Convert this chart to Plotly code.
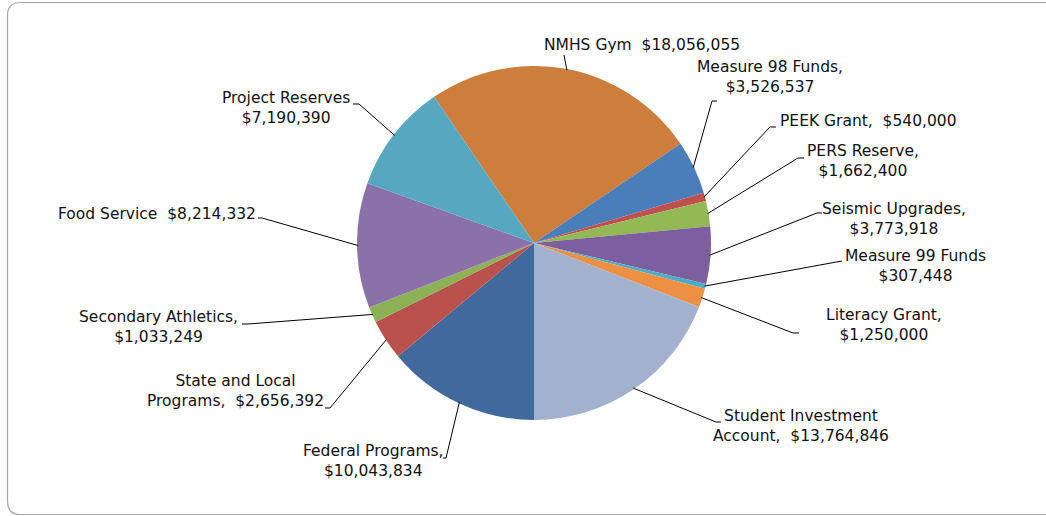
import math
import plotly.graph_objects as go

# ---------------- data ----------------
categories = [
    "NMHS Gym", "Measure 98 Funds", "PEEK Grant", "PERS Reserve",
    "Seismic Upgrades", "Measure 99 Funds", "Literacy Grant",
    "Student Investment Account", "Federal Programs", "State and Local Programs",
    "Secondary Athletics", "Food Service", "Project Reserves",
]
values = [
    18056055, 3526537, 540000, 1662400,
    3773918, 307448, 1250000,
    13764846, 10043834, 2656392,
    1033249, 8214332, 7190390,
]
label_texts = [
    "NMHS Gym  $18,056,055",
    "Measure 98 Funds,<br>$3,526,537",
    "PEEK Grant,  $540,000",
    "PERS Reserve,<br>$1,662,400",
    "Seismic Upgrades,<br>$3,773,918",
    "Measure 99 Funds<br>$307,448",
    "Literacy Grant,<br>$1,250,000",
    "Student Investment<br>Account,  $13,764,846",
    "Federal Programs,<br>$10,043,834",
    "State and Local<br>Programs,  $2,656,392",
    "Secondary Athletics,<br>$1,033,249",
    "Food Service  $8,214,332",
    "Project Reserves<br>$7,190,390",
]

# ---------------- style / layout ----------------
colors = [
    "#CD7D3C", "#4A7EBB", "#C0504D", "#93B955",
    "#7D5F9F", "#4BACC6", "#EE9043",
    "#A1B1CE", "#41699C", "#B9524C",
    "#8DB256", "#8A71AA", "#55A8C0",
]
W, H = 1046, 516
CX, CY, R = 534, 243, 177

# label centres (pixels) and leader-line elbow points (pixels)
label_pos = [
    (642, 45), (770, 77), (868, 121), (863, 161),
    (894, 219), (915, 266), (884, 325),
    (801, 426), (373, 461), (235, 391),
    (158, 327), (157, 214), (286, 108),
]
leader_elbows = [
    [(564, 55)],
    [(712, 101), (717, 101)],
    [(770, 127), (776, 127)],
    [(798, 158), (804, 158)],
    [(817, 213), (822, 213)],
    [(842, 261)],
    [(793, 333), (799, 333)],
    [(716, 422), (721, 422)],
    [(446, 458), (443, 458)],
    [(330, 408), (325, 408)],
    [(248, 324), (242, 324)],
    [(262, 218), (258, 218)],
    [(359, 104), (353, 104)],
]

total = sum(values)
# Student Investment Account ends exactly at 6 o'clock
rotation = 180 - 360 * sum(values[:8]) / total


def px(x):
    return x / W


def py(y):
    return 1 - y / H


fig = go.Figure()
fig.add_trace(go.Pie(
    labels=categories,
    values=values,
    sort=False,
    direction="clockwise",
    rotation=rotation,
    textinfo="none",
    marker=dict(colors=colors, line=dict(width=0)),
    domain=dict(x=[px(CX - R), px(CX + R)], y=[py(CY + R), py(CY - R)]),
    showlegend=False,
    hovertemplate="%{label}: $%{value:,}<extra></extra>",
))

shapes = []
annotations = []
cum = 0
for i, v in enumerate(values):
    mid = rotation + 360 * (cum + v / 2) / total
    cum += v
    th = math.radians(mid)
    ex = CX + (R - 1) * math.sin(th)
    ey = CY - (R - 1) * math.cos(th)
    pts = [(ex, ey)] + leader_elbows[i]
    path = "M {:.5f},{:.5f}".format(px(pts[0][0]), py(pts[0][1]))
    for (x, y) in pts[1:]:
        path += " L {:.5f},{:.5f}".format(px(x), py(y))
    shapes.append(dict(type="path", xref="paper", yref="paper", path=path,
                       line=dict(color="black", width=1)))
    lx, ly = label_pos[i]
    annotations.append(dict(
        x=px(lx), y=py(ly), xref="paper", yref="paper",
        text=label_texts[i], showarrow=False, align="center",
        xanchor="center", yanchor="middle",
        font=dict(family="Verdana, DejaVu Sans, sans-serif", size=15.5, color="#111111"),
    ))

# rounded outer frame
x0, y0, x1, y1, rr = 7.5, 2.5, 1060, 514.5, 13
frame = (
    f"M {px(x0)},{py(y0 + rr)} Q {px(x0)},{py(y0)} {px(x0 + rr)},{py(y0)} "
    f"L {px(x1)},{py(y0)} L {px(x1)},{py(y1)} "
    f"L {px(x0 + rr)},{py(y1)} Q {px(x0)},{py(y1)} {px(x0)},{py(y1 - rr)} Z"
)
shapes.append(dict(type="path", xref="paper", yref="paper", path=frame,
                   line=dict(color="#A6A6A6", width=1.2), layer="below"))

fig.update_layout(
    width=W, height=H,
    margin=dict(l=0, r=0, t=0, b=0),
    paper_bgcolor="white",
    plot_bgcolor="white",
    shapes=shapes,
    annotations=annotations,
)

fig.write_html(
    "out.html",
    config={"displayModeBar": False},
    post_script="document.body.style.margin='0';document.body.style.overflow='hidden';",
)
